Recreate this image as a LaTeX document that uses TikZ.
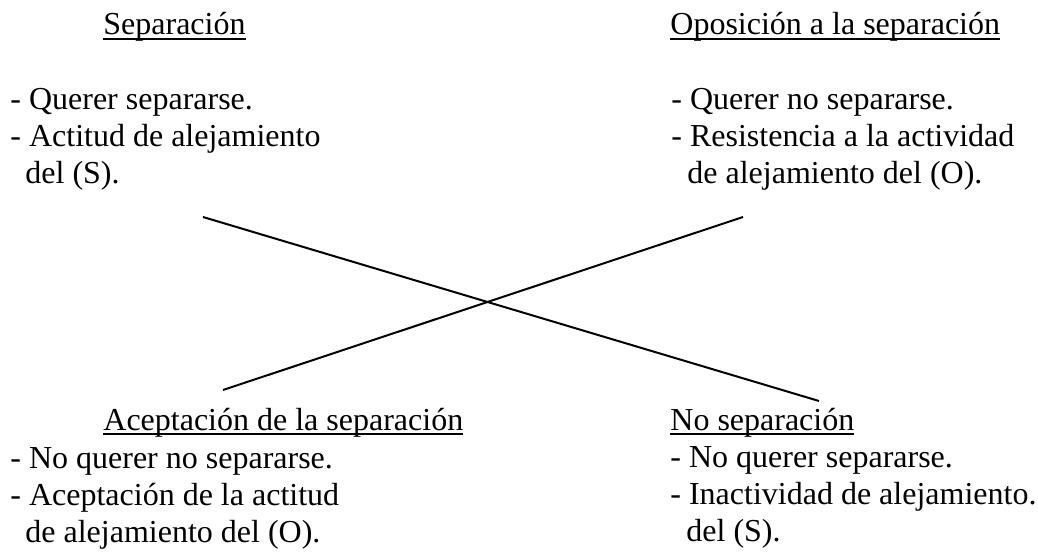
\documentclass[tikz,border=0pt]{standalone}
\usepackage{fontspec}
\setmainfont{Liberation Serif}
\newcommand\ulin[1]{\setbox0=\hbox{#1}\rlap{\rule[-2.3pt]{\wd0}{0.8pt}}\box0}
\begin{document}
\begin{tikzpicture}[x=0.5pt,y=-0.5pt,
  txt/.style={anchor=base west,inner sep=0pt,font=\fontsize{16}{18.4}\selectfont},
  cross/.style={line width=1pt}]
\useasboundingbox (0,0) rectangle (1038,555);
% top left
\node[txt] (tlT) at (103,35) {\ulin{Separación}};
\node[txt] (tl1) at (10,110) {- Querer separarse.};
\node[txt] (tl2) at (10,147) {- Actitud de alejamiento};
\node[txt] (tl3) at (25,184) {del (S).};
% top right
\node[txt] (trT) at (670,35) {\ulin{Oposición a la separación}};
\node[txt] (tr1) at (671,110) {- Querer no separarse.};
\node[txt] (tr2) at (671,147) {- Resistencia a la actividad};
\node[txt] (tr3) at (687,184) {de alejamiento del (O).};
% bottom left
\node[txt] (blT) at (103,430) {\ulin{Aceptación de la separación}};
\node[txt] (bl1) at (10,468) {- No querer no separarse.};
\node[txt] (bl2) at (10,505) {- Aceptación de la actitud};
\node[txt] (bl3) at (25,542) {de alejamiento del (O).};
% bottom right
\node[txt] (brT) at (670,430) {\ulin{No separación}};
\node[txt] (br1) at (670,467) {- No querer separarse.};
\node[txt] (br2) at (670,504) {- Inactividad de alejamiento.};
\node[txt] (br3) at (686,541) {del (S).};
% cross
\coordinate (a1) at (203,217);
\coordinate (a2) at (819,401);
\coordinate (b1) at (223,390);
\coordinate (b2) at (743,217);
\draw[cross] (a1) -- (a2);
\draw[cross] (b1) -- (b2);
\end{tikzpicture}
\end{document}
